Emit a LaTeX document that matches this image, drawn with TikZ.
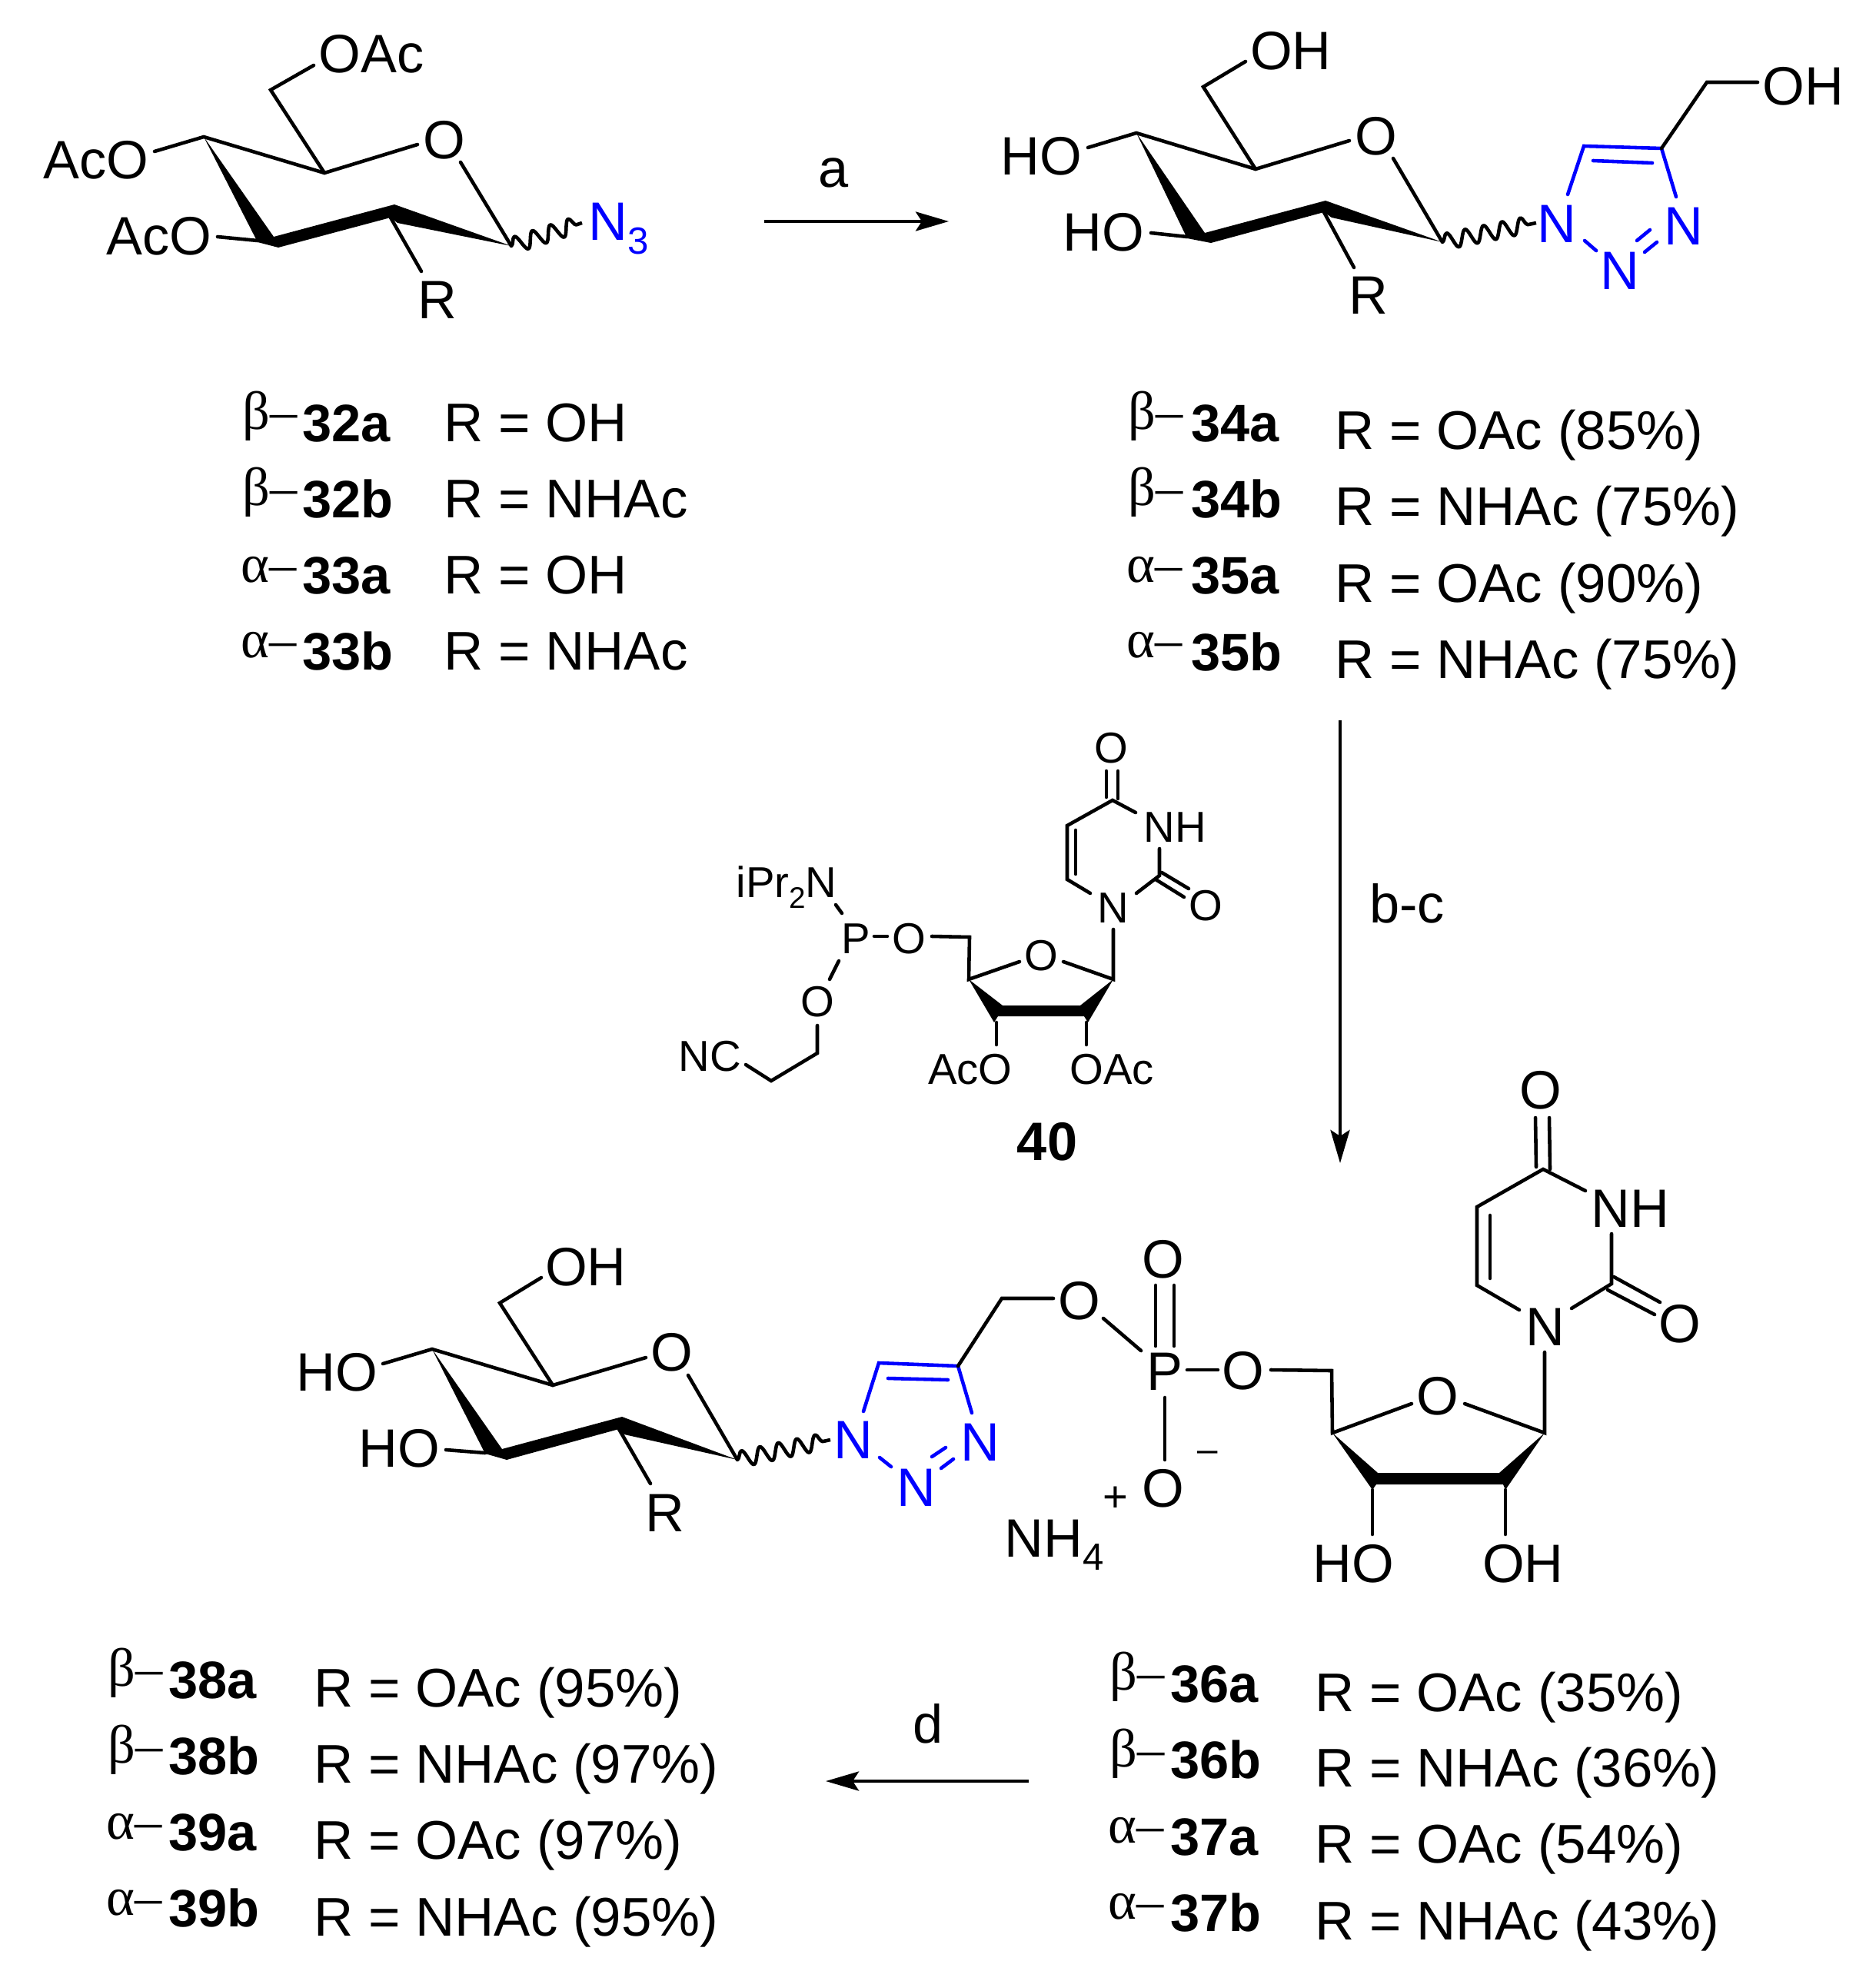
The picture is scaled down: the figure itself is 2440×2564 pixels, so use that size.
\documentclass[tikz,border=0pt]{standalone}
\usepackage{fontspec}
\setmainfont{Liberation Sans}
\newfontfamily\grkfont{Liberation Serif}
\usetikzlibrary{arrows.meta,decorations.pathmorphing}
\definecolor{azideblue}{RGB}{0,0,255}
\newcommand{\sbs}[2][14]{\raisebox{-0.25em}{\fontsize{#1}{#1}\selectfont #2}}
\newcommand{\pts}[1]{\foreach \n/\px/\py in {#1}{\coordinate (\n) at (\px,\py);}}
\tikzset{
  bond/.style={line width=1.3pt,line join=miter,line cap=round},
  bluebond/.style={bond,draw=azideblue},
  wedgefill/.style={fill=black},
  wavy/.style={line width=1.3pt,line join=round,decorate,decoration={snake,segment length=2.45mm,amplitude=1.05mm}},
  rxn/.style={line width=1.2pt,-{Stealth[length=4.3mm,width=2.5mm,inset=0.8mm]}},
  lab/.style={font=\fontsize{20}{24}\selectfont,inner sep=0pt,anchor=center},
  sml/.style={font=\fontsize{16}{18}\selectfont,inner sep=0pt,anchor=center},
  bluelab/.style={lab,text=azideblue},
  basel/.style={inner sep=0pt,anchor=base west},
  grk/.style={basel,xshift=-0.03cm,font=\fontsize{20}{24}\selectfont\grkfont},
  cpd/.style={basel,xshift=-0.02cm,font=\fontsize{19.5}{24}\selectfont\bfseries},
  rtxt/.style={basel,xshift=-0.07cm,font=\fontsize{20.15}{24}\selectfont}
}
\begin{document}
\begin{tikzpicture}[x=0.01cm,y=-0.01cm]
\useasboundingbox (0,0) rectangle (2440,2564);
\fill[white] (0,0) rectangle (2440,2564);

% ---------- sugar azide (top left)
\pts{A6/352/117,A6o/408/85,A5/422/225,A5o/543/188,A4/265/178,A4o/201/197,Ao1/599/211,A1/665/320,
A3t/356/308,A3b/362/322,A3l/335/315,A2t/513/266,A2b/508/283,A2r/517/290,Arb/548/353,A3o/283/308,A3e/335/313,Aw/757/290}
\fill[wedgefill] (A4)--(A3t)--(A2t)--(A1)--(A2r)--(A2b)--(A3b)--(A3l)--cycle;
\draw[bond] (A6o)--(A6)--(A5);
\draw[bond] (A4o)--(A4)--(A5)--(A5o);
\draw[bond] (Ao1)--(A1);
\draw[bond] (A2b)--(Arb);
\draw[bond] (A3o)--(A3e);
\draw[wavy] (A1)--(Aw);
\node[lab] (aOAc) at (483,70) {OAc};
\node[lab] (aO) at (578,182) {O};
\node[lab] (aAcO1) at (125,208) {AcO};
\node[lab] (aAcO2) at (207,307) {AcO};
\node[lab] (aR) at (569,390) {R};
\node[basel,font=\fontsize{20}{24}\selectfont,text=azideblue] (aN3) at (765,313) {N\sbs{3}};

% ---------- reaction arrows
\pts{ar1s/994/288,ar1e/1234/288,ar2s/1743/937,ar2e/1743/1513,ar3s/1338/2317,ar3e/1074/2317}
\draw[rxn] (ar1s)--(ar1e);
\node[lab] (la) at (1084,225) {a};
\draw[rxn] (ar2s)--(ar2e);
\node[lab] (lbc) at (1830,1175) {b-c};
\draw[rxn] (ar3s)--(ar3e);
\node[lab] (ld) at (1207,2242) {d};

% ---------- sugar triazole (top right)
\pts{B6/1565/113,B6o/1620/80,B5/1633/220,B5o/1755/183,B4/1478/173,B4o/1415/192,Bo1/1812/206,B1/1876/315,
B3t/1567/303,B3b/1575/316,B3l/1544/310,B2t/1724/261,B2b/1722/276,B2r/1732/283,Brb/1761/348,B3o/1497/303,B3e/1544/308,Bw/1998/290,
Bt5/2060/190,Bt4/2161/193,Btn1/2039/253,Btn3/2180/256,Bi1/2072/209,Bi2/2149/212,Bn1a/2061/313,Bn1b/2076/326,
Bn2a/2139/328,Bn2b/2155/315,Bn3a/2129/313,Bn3b/2146/299,BCH/2220/107,BCHo/2286/107}
\fill[wedgefill] (B4)--(B3t)--(B2t)--(B1)--(B2r)--(B2b)--(B3b)--(B3l)--cycle;
\draw[bond] (B6o)--(B6)--(B5);
\draw[bond] (B4o)--(B4)--(B5)--(B5o);
\draw[bond] (Bo1)--(B1);
\draw[bond] (B2b)--(Brb);
\draw[bond] (B3o)--(B3e);
\draw[wavy] (B1)--(Bw);
\draw[bluebond] (Btn1)--(Bt5)--(Bt4)--(Btn3);
\draw[bluebond] (Bi1)--(Bi2);
\draw[bluebond] (Bn1a)--(Bn1b);
\draw[bluebond] (Bn2a)--(Bn2b);
\draw[bluebond] (Bn3a)--(Bn3b);
\draw[bond] (Bt4)--(BCH)--(BCHo);
\node[lab] (bOH) at (1679,66) {OH};
\node[lab] (bO) at (1790,177) {O};
\node[lab] (bHO1) at (1354,203) {HO};
\node[lab] (bHO2) at (1435,302) {HO};
\node[lab] (bR) at (1780,384) {R};
\node[lab] (bOH2) at (2345,112) {OH};
\node[bluelab] (bN1) at (2025,291) {N};
\node[bluelab] (bN2) at (2107,352) {N};
\node[bluelab] (bN3) at (2190,294) {N};

% ---------- tables
\foreach \t/\g/\xa/\yg/\xb/\yb/\xr/\yr/\txt in {
 32a/β/318/558/395/574/584/574/R = OH,
 32b/β/318/657/395/673/584/673/R = NHAc,
 33a/α/316/757/395/772/584/772/R = OH,
 33b/α/316/855/395/871/584/871/R = NHAc,
 34a/β/1470/558/1551/574/1743/584/R = OAc (85\%),
 34b/β/1470/657/1551/673/1743/683/R = NHAc (75\%),
 35a/α/1468/757/1551/772/1743/783/R = OAc (90\%),
 35b/α/1468/855/1551/872/1743/882/R = NHAc (75\%),
 36a/β/1446/2198/1524/2214/1717/2226/R = OAc (35\%),
 36b/β/1446/2298/1524/2313/1717/2324/R = NHAc (36\%),
 37a/α/1444/2397/1524/2413/1717/2423/R = OAc (54\%),
 37b/α/1444/2496/1524/2512/1717/2523/R = NHAc (43\%),
 38a/β/143/2193/221/2209/415/2220/R = OAc (95\%),
 38b/β/143/2293/221/2308/415/2319/R = NHAc (97\%),
 39a/α/141/2392/221/2407/415/2418/R = OAc (97\%),
 39b/α/141/2491/221/2506/415/2518/R = NHAc (95\%)}{
  \node[grk] (g\t) at (\xa,\yg) {\g–};
  \node[cpd] (c\t) at (\xb,\yb) {\t};
  \node[rtxt] (r\t) at (\xr,\yr) {\txt};
}

% ---------- compound 40
\pts{Dc4/1447/1041,Do4a/1439/1003,Do4b/1439/1037,Do4c/1454/1003,Do4d/1454/1039,Dn3e/1477/1057,Dc5/1388/1074,Dc6/1388/1144,
Di1/1399/1080,Di2/1399/1137,Dn1a/1418/1162,Dc2/1508/1139,Dn3b/1508/1104,Dn1b/1478/1162,Do2a/1511/1135,Do2b/1546/1156,Do2c/1503/1144,Do2d/1540/1167,
Dn1c/1448/1209,D1/1448/1274,D4/1260/1274,D5/1261/1219,Dol/1326/1251,Dor/1383/1251,D5o/1212/1218,Dpa/1137/1218,Dpb/1154/1218,
Dna/1087/1177,Dnb/1095/1188,Dpc/1091/1250,Dpd/1079/1274,Doa/1063/1334,Dob/1063/1370,Doc/1003/1406,Dod/970/1385,
D3t/1304/1308,D2t/1405/1308,D2m/1410/1322,D3m/1298/1322,D2c/1415/1330,D3c/1293/1330,D3x/1296/1330,D3y/1296/1359,D2x/1413/1330,D2y/1413/1359}
\fill[wedgefill] (D4)--(D3t)--(D2t)--(D1)--(D2c)--(D2m)--(D3m)--(D3c)--cycle;
\draw[bond] (Do4a)--(Do4b);
\draw[bond] (Do4c)--(Do4d);
\draw[bond] (Dn3e)--(Dc4)--(Dc5)--(Dc6)--(Dn1a);
\draw[bond] (Di1)--(Di2);
\draw[bond] (Dn3b)--(Dc2)--(Dn1b);
\draw[bond] (Do2a)--(Do2b);
\draw[bond] (Do2c)--(Do2d);
\draw[bond] (Dn1c)--(D1)--(Dor);
\draw[bond] (Dol)--(D4)--(D5)--(D5o);
\draw[bond] (Dpa)--(Dpb);
\draw[bond] (Dna)--(Dnb);
\draw[bond] (Dpc)--(Dpd);
\draw[bond] (Doa)--(Dob)--(Doc)--(Dod);
\draw[bond] (D3x)--(D3y);
\draw[bond] (D2x)--(D2y);
\node[sml] (dOtop) at (1445,973) {O};
\node[sml] (dNH) at (1528,1076) {NH};
\node[sml] (dN) at (1448,1181) {N};
\node[sml] (dO2) at (1568,1178) {O};
\node[sml] (dOr) at (1354,1243) {O};
\node[sml] (dO5) at (1182,1221) {O};
\node[sml] (dP) at (1113,1221) {P};
\node[basel,font=\fontsize{16}{18}\selectfont] (dNiPr) at (957,1167) {iPr\sbs[11]{2}N};
\node[sml] (dOl) at (1063,1303) {O};
\node[sml] (dNC) at (923,1374) {NC};
\node[sml] (dAcO) at (1262,1391) {AcO};
\node[sml] (dOAc) at (1446,1391) {OAc};
\node[inner sep=0pt,font=\fontsize{20}{24}\selectfont\bfseries] (d40) at (1362,1485) {40};

% ---------- final nucleotide sugar
\pts{C6/650/1695,C6o/704/1662,C5/719/1802,C5o/840/1766,C4/562/1755,C4o/498/1774,Co1/895/1789,C1/959/1899,
C3t/653/1885,C3b/659/1899,C3l/631/1891,C2t/809/1843,C2b/805/1859,C2r/812/1866,Crb/846/1930,C3o/580/1886,C3e/631/1890,Cw/1080/1873,
Ct5/1143/1773,Ct4/1246/1777,Ctn1/1123/1836,Ctn3/1264/1838,Ci1/1155/1793,Ci2/1233/1795,Cn1a/1144/1896,Cn1b/1159/1908,
Cn2a/1224/1910,Cn2b/1240/1898,Cn3a/1212/1895,Cn3b/1230/1883,CCH/1303/1689,CCHo/1370/1689}
\fill[wedgefill] (C4)--(C3t)--(C2t)--(C1)--(C2r)--(C2b)--(C3b)--(C3l)--cycle;
\draw[bond] (C6o)--(C6)--(C5);
\draw[bond] (C4o)--(C4)--(C5)--(C5o);
\draw[bond] (Co1)--(C1);
\draw[bond] (C2b)--(Crb);
\draw[bond] (C3o)--(C3e);
\draw[wavy] (C1)--(Cw);
\draw[bluebond] (Ctn1)--(Ct5)--(Ct4)--(Ctn3);
\draw[bluebond] (Ci1)--(Ci2);
\draw[bluebond] (Cn1a)--(Cn1b);
\draw[bluebond] (Cn2a)--(Cn2b);
\draw[bluebond] (Cn3a)--(Cn3b);
\draw[bond] (Ct4)--(CCH)--(CCHo);
\node[lab] (cOH) at (762,1648) {OH};
\node[lab] (cO) at (874,1759) {O};
\node[lab] (cHO1) at (438,1785) {HO};
\node[lab] (cHO2) at (519,1884) {HO};
\node[lab] (cR) at (865,1968) {R};
\node[bluelab] (cN1) at (1110,1873) {N};
\node[bluelab] (cN2) at (1192,1935) {N};
\node[bluelab] (cN3) at (1275,1876) {N};

% phosphate
\pts{Ppa/1435/1715,Ppb/1484/1757,Pd1a/1503/1672,Pd1b/1503/1751,Pd2a/1527/1672,Pd2b/1527/1751,Pra/1544/1782,Prb/1584/1782,
Pma/1515/1818,Pmb/1515/1899}
\draw[bond] (Ppa)--(Ppb);
\draw[bond] (Pd1a)--(Pd1b);
\draw[bond] (Pd2a)--(Pd2b);
\draw[bond] (Pra)--(Prb);
\draw[bond] (Pma)--(Pmb);
\node[lab] (pO1) at (1404,1692) {O};
\node[lab] (pP) at (1515,1784) {P};
\node[lab] (pOt) at (1513,1638) {O};
\node[lab] (pOr) at (1617,1783) {O};
\node[lab] (pOm) at (1513,1936) {O};
\node[inner sep=0pt,font=\fontsize{13.5}{16}\selectfont] (pMinus) at (1571,1895) {–};
\node[inner sep=0pt,font=\fontsize{16}{18}\selectfont] (pPlus) at (1451,1950) {+};
\node[basel,font=\fontsize{20}{24}\selectfont] (pNH4) at (1306,2025) {NH\sbs{4}};

% ribose and uracil
\pts{Ea/1653/1782,Eb/1732/1783,E4/1733/1864,Eol/1836/1826,Eor/1905/1826,E1/2009/1864,En/2009/1759,
E3t/1792/1916,E2t/1950/1916,E2m/1955/1931,E3m/1790/1931,E2c/1958/1938,E3c/1785/1938,E3y/1785/1996,E2y/1958/1996,
Uc6/1921/1672,Uc5/1921/1570,Uc4/2007/1521,Ui1/1938/1581,Ui2/1938/1663,Ue1/1976/1704,Uo1/1997/1454,Uo2/1998/1518,Uo3/2015/1454,Uo4/2016/1521,
Un3/2062/1549,Un3b/2096/1605,Uc2/2096/1670,Ue2/2044/1702,Uo5/2099/1661,Uo6/2159/1694,Uo7/2091/1678,Uo8/2152/1710}
\fill[wedgefill] (E4)--(E3t)--(E2t)--(E1)--(E2c)--(E2m)--(E3m)--(E3c)--cycle;
\draw[bond] (Ea)--(Eb)--(E4)--(Eol);
\draw[bond] (Eor)--(E1)--(En);
\draw[bond] (E3c)--(E3y);
\draw[bond] (E2c)--(E2y);
\draw[bond] (Ue1)--(Uc6)--(Uc5)--(Uc4)--(Un3);
\draw[bond] (Ui1)--(Ui2);
\draw[bond] (Uo1)--(Uo2);
\draw[bond] (Uo3)--(Uo4);
\draw[bond] (Un3b)--(Uc2)--(Ue2);
\draw[bond] (Uo5)--(Uo6);
\draw[bond] (Uo7)--(Uo8);
\node[lab] (eO) at (1870,1816) {O};
\node[lab] (eHO) at (1760,2034) {HO};
\node[lab] (eOH) at (1981,2034) {OH};
\node[lab] (eN) at (2010,1726) {N};
\node[lab] (eNH) at (2120,1572) {NH};
\node[lab] (eOt) at (2004,1418) {O};
\node[lab] (eO2) at (2185,1722) {O};
\end{tikzpicture}
\end{document}
